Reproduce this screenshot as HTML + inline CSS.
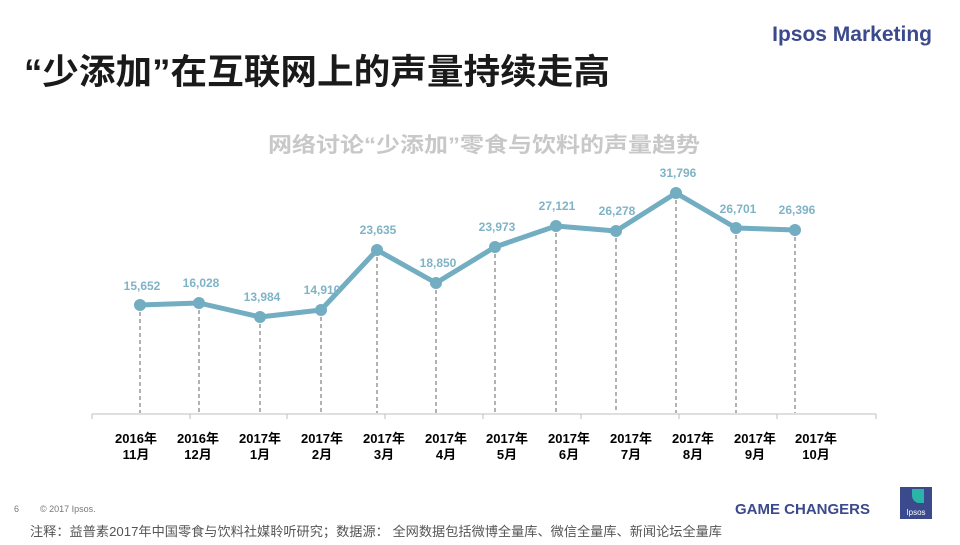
<!DOCTYPE html>
<html><head><meta charset="utf-8"><style>
body{margin:0;width:960px;height:540px;background:#fff;overflow:hidden;font-family:"Liberation Sans","Noto Sans CJK SC",sans-serif;}
</style></head><body>
<svg width="960" height="540" viewBox="0 0 960 540" xmlns="http://www.w3.org/2000/svg" font-family="'Liberation Sans','Noto Sans CJK SC',sans-serif">
<text x="932" y="41" text-anchor="end" font-size="21" font-weight="bold" fill="#3b4a8c">Ipsos Marketing</text>
<text x="24" y="84" font-size="35" font-weight="bold" fill="#1a1a1a" textLength="586" lengthAdjust="spacingAndGlyphs">“少添加”在互联网上的声量持续走高</text>
<text x="268" y="152" font-size="21" font-weight="bold" fill="#c8c8c8" textLength="432" lengthAdjust="spacingAndGlyphs">网络讨论“少添加”零食与饮料的声量趋势</text>
<line x1="92" y1="414" x2="876" y2="414" stroke="#bfbfbf" stroke-width="1"/>
<g stroke="#bfbfbf" stroke-width="1">
<line x1="92" y1="414" x2="92" y2="419"/><line x1="190" y1="414" x2="190" y2="419"/><line x1="287" y1="414" x2="287" y2="419"/><line x1="385" y1="414" x2="385" y2="419"/><line x1="483" y1="414" x2="483" y2="419"/><line x1="581" y1="414" x2="581" y2="419"/><line x1="679" y1="414" x2="679" y2="419"/><line x1="777" y1="414" x2="777" y2="419"/><line x1="876" y1="414" x2="876" y2="419"/>
</g>
<g stroke="#666" stroke-width="1" stroke-dasharray="4,3">
<line x1="140" y1="312" x2="140" y2="413"/><line x1="199" y1="310" x2="199" y2="413"/><line x1="260" y1="324" x2="260" y2="413"/><line x1="321" y1="317" x2="321" y2="413"/><line x1="377" y1="257" x2="377" y2="413"/><line x1="436" y1="290" x2="436" y2="413"/><line x1="495" y1="254" x2="495" y2="413"/><line x1="556" y1="233" x2="556" y2="413"/><line x1="616" y1="238" x2="616" y2="413"/><line x1="676" y1="200" x2="676" y2="413"/><line x1="736" y1="235" x2="736" y2="413"/><line x1="795" y1="237" x2="795" y2="413"/>
</g>
<polyline fill="none" stroke="#72adc2" stroke-width="5" stroke-linejoin="round" points="140,305 199,303 260,317 321,310 377,250 436,283 495,247 556,226 616,231 676,193 736,228 795,230"/>
<g fill="#72adc2">
<circle cx="140" cy="305" r="6"/><circle cx="199" cy="303" r="6"/><circle cx="260" cy="317" r="6"/><circle cx="321" cy="310" r="6"/><circle cx="377" cy="250" r="6"/><circle cx="436" cy="283" r="6"/><circle cx="495" cy="247" r="6"/><circle cx="556" cy="226" r="6"/><circle cx="616" cy="231" r="6"/><circle cx="676" cy="193" r="6"/><circle cx="736" cy="228" r="6"/><circle cx="795" cy="230" r="6"/>
</g>
<g font-size="12" font-weight="bold" fill="#7fb3c6" text-anchor="middle">
<text x="142" y="290">15,652</text><text x="201" y="287">16,028</text><text x="262" y="301">13,984</text><text x="322" y="294">14,910</text><text x="378" y="234">23,635</text><text x="438" y="267">18,850</text><text x="497" y="231">23,973</text><text x="557" y="210">27,121</text><text x="617" y="215">26,278</text><text x="678" y="177">31,796</text><text x="738" y="213">26,701</text><text x="797" y="214">26,396</text>
</g>
<g font-size="13" font-weight="bold" fill="#000" text-anchor="middle">
<text x="136" y="443">2016年</text><text x="136" y="459">11月</text>
<text x="198" y="443">2016年</text><text x="198" y="459">12月</text>
<text x="260" y="443">2017年</text><text x="260" y="459">1月</text>
<text x="322" y="443">2017年</text><text x="322" y="459">2月</text>
<text x="384" y="443">2017年</text><text x="384" y="459">3月</text>
<text x="446" y="443">2017年</text><text x="446" y="459">4月</text>
<text x="507" y="443">2017年</text><text x="507" y="459">5月</text>
<text x="569" y="443">2017年</text><text x="569" y="459">6月</text>
<text x="631" y="443">2017年</text><text x="631" y="459">7月</text>
<text x="693" y="443">2017年</text><text x="693" y="459">8月</text>
<text x="755" y="443">2017年</text><text x="755" y="459">9月</text>
<text x="816" y="443">2017年</text><text x="816" y="459">10月</text>
</g>
<text x="14" y="512" font-size="9" fill="#777">6</text>
<text x="40" y="512" font-size="9" fill="#777">© 2017 Ipsos.</text>
<text x="870" y="514" text-anchor="end" font-size="15" font-weight="bold" fill="#3b4a8c">GAME CHANGERS</text>
<rect x="900" y="487" width="32" height="32" fill="#3b4a8c"/>
<path d="M912,489 h12 v14 h-6 q-6,-2 -6,-8z" fill="#2bb5a8"/>
<text x="916" y="515" text-anchor="middle" font-size="8" fill="#fff">Ipsos</text>
<text x="30" y="536" font-size="13" fill="#555" textLength="692" lengthAdjust="spacingAndGlyphs">注释：益普素2017年中国零食与饮料社媒聆听研究；数据源：  全网数据包括微博全量库、微信全量库、新闻论坛全量库</text>
</svg>
</body></html>
